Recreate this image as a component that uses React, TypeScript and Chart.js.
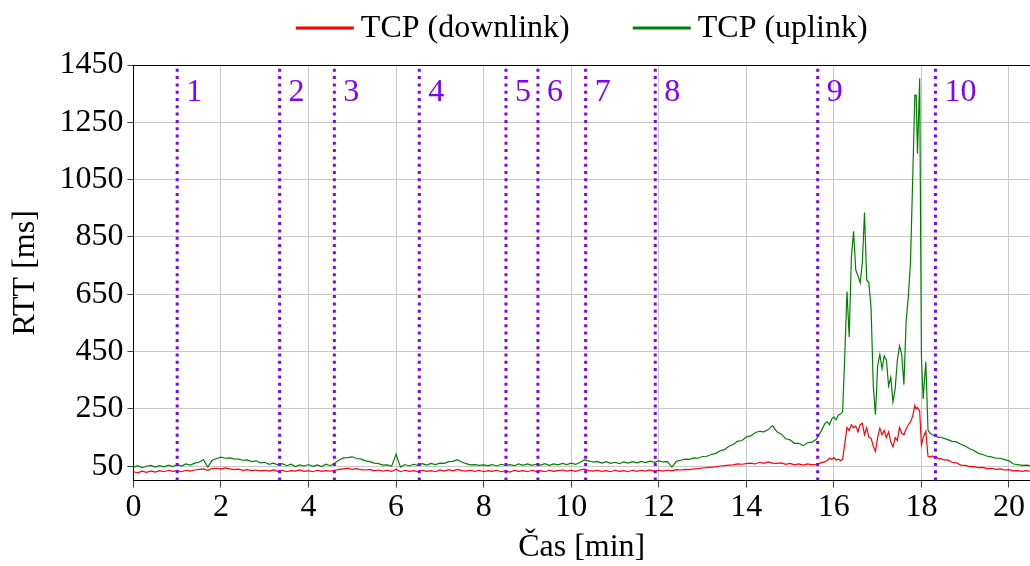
import React, { useEffect, useRef } from "react";
import { Chart, registerables } from "chart.js";

Chart.register(...registerables);

// ---------- DATA ----------
const timeMin = [
  0.0, 0.1, 0.2, 0.3, 0.4, 0.5, 0.6, 0.7, 0.8, 0.9,
  1.0, 1.1, 1.2, 1.3, 1.4, 1.5, 1.6, 1.7, 1.8, 1.9,
  2.0, 2.1, 2.2, 2.3, 2.4, 2.5, 2.6, 2.7, 2.8, 2.9,
  3.0, 3.1, 3.2, 3.3, 3.4, 3.5, 3.6, 3.7, 3.8, 3.9,
  4.0, 4.1, 4.2, 4.3, 4.4, 4.5, 4.6, 4.7, 4.8, 4.9,
  5.0, 5.1, 5.2, 5.3, 5.4, 5.5, 5.6, 5.7, 5.8, 5.9,
  6.0, 6.1, 6.2, 6.3, 6.4, 6.5, 6.6, 6.7, 6.8, 6.9,
  7.0, 7.1, 7.2, 7.3, 7.4, 7.5, 7.6, 7.7, 7.8, 7.9,
  8.0, 8.1, 8.2, 8.3, 8.4, 8.5, 8.6, 8.7, 8.8, 8.9,
  9.0, 9.1, 9.2, 9.3, 9.4, 9.5, 9.6, 9.7, 9.8, 9.9,
  10.0, 10.1, 10.2, 10.3, 10.4, 10.5, 10.6, 10.7, 10.8, 10.9,
  11.0, 11.1, 11.2, 11.3, 11.4, 11.5, 11.6, 11.7, 11.8, 11.9,
  12.0, 12.1, 12.2, 12.3, 12.4, 12.5, 12.6, 12.7, 12.8, 12.9,
  13.0, 13.1, 13.2, 13.3, 13.4, 13.5, 13.6, 13.7, 13.8, 13.9,
  14.0, 14.1, 14.2, 14.3, 14.4, 14.5, 14.6, 14.7, 14.8, 14.9,
  15.0, 15.1, 15.2, 15.3, 15.4, 15.5, 15.6, 15.7, 15.8,
  15.85, 15.9, 15.95, 16.0, 16.05, 16.1, 16.15, 16.2,
  16.25, 16.3, 16.35, 16.4, 16.45, 16.5, 16.55, 16.6,
  16.65, 16.7, 16.75, 16.8, 16.85, 16.9, 16.95, 17.0,
  17.05, 17.1, 17.15, 17.2, 17.25, 17.3, 17.35, 17.4,
  17.45, 17.5, 17.55, 17.6, 17.65, 17.7, 17.75, 17.8,
  17.85, 17.88, 17.91, 17.96, 18.0, 18.04,
  18.1, 18.15, 18.2, 18.25, 18.3, 18.35, 18.4, 18.45, 18.5,
  18.6, 18.7, 18.8, 18.9, 19.0, 19.1, 19.2, 19.3, 19.4, 19.5,
  19.6, 19.7, 19.8, 19.9, 20.0, 20.1, 20.2, 20.3, 20.4, 20.5,
];

const downlinkMs = [
  31, 27, 33, 29, 34, 30, 35, 31, 36, 32,
  35, 31, 36, 33, 37, 39, 41, 36, 42, 43,
  40, 44, 41, 38, 40, 36, 38, 35, 37, 34,
  36, 33, 37, 32, 36, 31, 35, 33, 37, 32,
  35, 31, 36, 32, 35, 33, 36, 39, 41, 43,
  39, 42, 38, 37, 39, 34, 37, 33, 36, 32,
  40, 31, 36, 32, 35, 31, 36, 32, 35, 31,
  37, 33, 38, 34, 39, 35, 33, 36, 32, 36,
  31, 35, 32, 36, 31, 35, 30, 36, 32, 35,
  31, 36, 32, 35, 31, 36, 32, 35, 37, 33,
  36, 32, 37, 40, 35, 33, 36, 32, 35, 31,
  36, 32, 35, 31, 36, 32, 36, 33, 37, 32,
  36, 33, 37, 34, 38, 37, 39, 38, 41, 42,
  44, 45, 47, 48, 51, 52, 54, 55, 58, 57,
  59, 61, 58, 64, 60, 65, 61, 60, 62, 57,
  60, 55, 58, 54, 58, 55, 57, 62, 66,
  70, 78, 74, 80, 72, 75, 70, 73,
  130, 185, 175, 195, 185, 190, 170, 195,
  200, 160, 185, 150, 148, 120, 102, 150,
  183, 160, 175, 150, 170, 135, 118, 150,
  140, 185, 165, 160, 180, 195, 205, 225,
  262, 250, 255, 242, 124, 150,
  172, 85, 82, 86, 79, 81, 76, 77, 72,
  72, 64, 62, 54, 53, 49, 49, 45, 46, 42,
  43, 39, 41, 37, 38, 34, 35, 32, 35, 32,
];

const uplinkMs = [
  47, 52, 45, 50, 53, 47, 52, 48, 54, 49,
  56, 51, 58, 54, 61, 65, 73, 47, 71, 77,
  82, 78, 79, 76, 75, 71, 72, 66, 69, 62,
  64, 57, 61, 55, 59, 52, 57, 49, 55, 51,
  56, 50, 55, 49, 57, 52, 61, 72, 79, 80,
  83, 77, 75, 69, 66, 61, 59, 54, 55, 51,
  92, 47, 56, 51, 57, 53, 59, 54, 60, 56,
  61, 60, 66, 67, 73, 65, 59, 55, 56, 53,
  55, 52, 56, 51, 57, 53, 56, 52, 58, 53,
  58, 53, 57, 54, 59, 53, 58, 55, 60, 56,
  61, 57, 63, 72, 69, 65, 66, 61, 66, 60,
  64, 59, 65, 61, 66, 62, 67, 63, 68, 64,
  69, 65, 66, 47, 67, 71, 75, 74, 79, 78,
  84, 85, 91, 95, 104, 108, 120, 126, 137, 140,
  152, 156, 167, 172, 170, 178, 192, 170, 162, 146,
  142, 130, 130, 122, 132, 134, 144, 170, 200,
  205, 195, 215, 222, 212, 228, 232, 240,
  440, 660, 500, 780, 870, 735, 715, 690,
  760, 935, 700, 690, 600, 330, 230, 400,
  440, 390, 435, 420, 330, 360, 275, 320,
  420, 470, 440, 335, 555, 640, 760, 1050,
  1345, 1345, 1140, 1404, 430, 285,
  415, 176, 165, 160, 157, 154, 150, 152, 148,
  143, 137, 135, 127, 121, 111, 105, 95, 91, 85,
  83, 78, 78, 73, 69, 58, 56, 53, 54, 52,
];

const seriesLabels = ["TCP (downlink)", "TCP (uplink)"];
const seriesColors = ["#ff0000", "#008000"];

const phaseTimes = [1.0, 3.34, 4.59, 6.53, 8.51, 9.24, 10.33, 11.92, 15.63, 18.32];
const phaseLabels = ["1", "2", "3", "4", "5", "6", "7", "8", "9", "10"];

const yTicks = [50, 250, 450, 650, 850, 1050, 1250, 1450];
const xTicks = [0, 2, 4, 6, 8, 10, 12, 14, 16, 18, 20];

const X_MAX = 20.48;
const Y_MIN = 0;
const Y_MAX = 1450;
const PURPLE = "#7f00ff";
const FONT = '"Liberation Serif", "DejaVu Serif", serif';
const FS = 32;

const overlayPlugin = {
  id: "overlay",
  afterDatasetsDraw(chart: any) {
    const { ctx, chartArea, scales } = chart;
    ctx.save();
    ctx.strokeStyle = "#000";
    ctx.lineWidth = 1;
    ctx.beginPath();
    ctx.moveTo(chartArea.left, chartArea.top + 0.5);
    ctx.lineTo(chartArea.right, chartArea.top + 0.5);
    ctx.stroke();
    ctx.fillStyle = PURPLE;
    ctx.font = `${FS}px ${FONT}`;
    ctx.textBaseline = "middle";
    ctx.textAlign = "left";
    phaseTimes.forEach((t, i) => {
      const x = scales.x.getPixelForValue(t);
      ctx.fillText(phaseLabels[i], x + 9, chartArea.top + 28);
    });
    ctx.restore();
  },
  afterDraw(chart: any) {
    const { ctx, chartArea } = chart;
    ctx.save();
    ctx.font = `${FS}px ${FONT}`;
    ctx.textBaseline = "middle";
    ctx.textAlign = "left";
    const boxW = 58;
    const gapText = 7;
    const gapItems = 63;
    const widths = seriesLabels.map((l) => boxW + gapText + ctx.measureText(l).width);
    const total = widths.reduce((a, b) => a + b, 0) + gapItems * (widths.length - 1);
    let x = (chartArea.left + chartArea.right) / 2 - total / 2;
    const y = 28;
    seriesLabels.forEach((l, i) => {
      ctx.strokeStyle = seriesColors[i];
      ctx.lineWidth = 3;
      ctx.beginPath();
      ctx.moveTo(x, y);
      ctx.lineTo(x + boxW, y);
      ctx.stroke();
      ctx.fillStyle = "#000";
      ctx.fillText(l, x + boxW + gapText, y + 1);
      x += widths[i] + gapItems;
    });
    ctx.restore();
  },
};

export default function App() {
  const canvasRef = useRef<HTMLCanvasElement | null>(null);

  useEffect(() => {
    document.body.style.margin = "0";
    const canvas = canvasRef.current;
    if (!canvas) return;

    const phaseDatasets = phaseTimes.map((t, i) => ({
      label: "phase " + phaseLabels[i],
      data: [
        { x: t, y: Y_MIN },
        { x: t, y: Y_MAX },
      ],
      borderColor: PURPLE,
      borderWidth: 3,
      borderDash: [3, 4.3],
      pointRadius: 0,
      order: 0,
    }));

    const seriesData = [downlinkMs, uplinkMs].map((vals) =>
      timeMin.map((t, i) => ({ x: t, y: vals[i] }))
    );

    const chart = new Chart(canvas, {
      type: "line",
      data: {
        datasets: [
          ...phaseDatasets,
          {
            label: seriesLabels[0],
            data: seriesData[0],
            borderColor: seriesColors[0],
            backgroundColor: seriesColors[0],
            borderWidth: 1.2,
            pointRadius: 0,
            order: 1,
          },
          {
            label: seriesLabels[1],
            data: seriesData[1],
            borderColor: seriesColors[1],
            backgroundColor: seriesColors[1],
            borderWidth: 1.2,
            pointRadius: 0,
            order: 2,
          },
        ],
      },
      options: {
        responsive: false,
        animation: false,
        layout: { padding: { top: 65, right: 0, left: 6, bottom: 2 } },
        plugins: {
          legend: { display: false },
          tooltip: { enabled: false },
        },
        scales: {
          x: {
            type: "linear",
            min: 0,
            max: X_MAX,
            afterBuildTicks: (axis: any) => {
              axis.ticks = xTicks.map((v) => ({ value: v }));
            },
            ticks: {
              autoSkip: false,
              maxRotation: 0,
              color: "#000",
              font: { family: FONT, size: FS },
              padding: 1,
              callback: (v: any) => String(v),
            },
            grid: { color: "#c8c8c8", lineWidth: 1, tickLength: 7, tickColor: "#444" },
            border: { color: "#000", width: 1 },
            title: {
              display: true,
              text: "Čas [min]",
              color: "#000",
              font: { family: FONT, size: FS, lineHeight: 1.0 },
              padding: { top: 4, bottom: 0 },
            },
          },
          y: {
            type: "linear",
            min: Y_MIN,
            max: Y_MAX,
            afterBuildTicks: (axis: any) => {
              axis.ticks = yTicks.map((v) => ({ value: v }));
            },
            ticks: {
              autoSkip: false,
              color: "#000",
              font: { family: FONT, size: FS },
              padding: 4,
              callback: (v: any) => String(v),
            },
            grid: { color: "#c8c8c8", lineWidth: 1, tickLength: 6, tickColor: "#444" },
            border: { color: "#000", width: 1 },
            title: {
              display: true,
              text: "RTT [ms]",
              color: "#000",
              font: { family: FONT, size: FS },
              padding: { top: 0, bottom: 11 },
            },
          },
        },
      },
      plugins: [overlayPlugin],
    });

    return () => chart.destroy();
  }, []);

  return (
    <div style={{ width: 1030, height: 566 }}>
      <canvas ref={canvasRef} width={1030} height={566} style={{ display: "block" }} />
    </div>
  );
}
